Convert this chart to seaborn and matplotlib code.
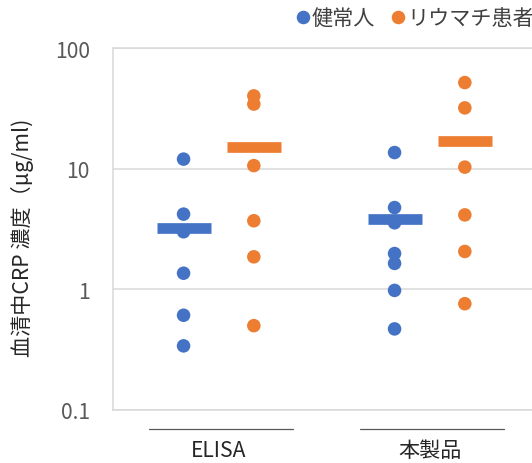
import numpy as np
import pandas as pd
import matplotlib
matplotlib.use("Agg")
import matplotlib.pyplot as plt
import matplotlib.transforms as mtransforms
import seaborn as sns

# ---- data ----
categories = ["ELISA", "本製品"]
groups = ["健常人", "リウマチ患者"]

elisa_healthy = [12.0, 4.2, 3.0, 1.36, 0.61, 0.34]
elisa_patient = [40.1, 34.3, 10.6, 3.7, 1.86, 0.50]
product_healthy = [13.6, 4.76, 3.56, 1.98, 1.64, 0.98, 0.47]
product_patient = [51.7, 31.9, 10.3, 4.14, 2.06, 0.76]

# mean bars
mean_healthy = [3.24, 3.84]
mean_patient = [15.1, 16.9]

ytick_vals = [0.1, 1, 10, 100]
ytick_labels = ["0.1", "1", "10", "100"]
ylabel = "血清中CRP 濃度（μg/ml)"

BLUE = "#4472C4"
ORANGE = "#ED7D31"
GRID = "#D9D9D9"

# ---- style ----
sns.set_theme(style="white")
plt.rcParams["font.family"] = ["Noto Sans CJK JP", "DejaVu Sans"]
FS = 15.2

# ---- long table ----
offset = {groups[0]: -0.167, groups[1]: 0.166}
series = {
    (categories[0], groups[0]): elisa_healthy,
    (categories[0], groups[1]): elisa_patient,
    (categories[1], groups[0]): product_healthy,
    (categories[1], groups[1]): product_patient,
}
rows = []
for (cat, grp), vals in series.items():
    for v in vals:
        rows.append({"cat": cat, "group": grp,
                     "x": categories.index(cat) + offset[grp], "value": v})
df = pd.DataFrame(rows)

fig = plt.figure(figsize=(5.32, 4.64), dpi=100)
W, H = 532, 464
left, right, top, bottom = 113.3, 535.3, 49, 411
ax = fig.add_axes([left / W, (H - bottom) / H, (right - left) / W, (bottom - top) / H])

sns.scatterplot(data=df, x="x", y="value", hue="group", hue_order=groups,
                palette=[BLUE, ORANGE], s=95, linewidth=0, ax=ax, zorder=3)

# mean bars
for i, cat in enumerate(categories):
    for grp, means, col in [(groups[0], mean_healthy, BLUE), (groups[1], mean_patient, ORANGE)]:
        xc = i + offset[grp]
        ax.plot([xc - 0.128, xc + 0.128], [means[i], means[i]], color=col,
                lw=7.7, solid_capstyle="butt", zorder=4)

ax.set_yscale("log")
ax.set_ylim(0.1, 100)
ax.set_xlim(-0.5, 1.5)
ax.set_yticks(ytick_vals)
ax.set_yticklabels(ytick_labels)
ax.yaxis.set_minor_locator(matplotlib.ticker.NullLocator())
ax.tick_params(axis="y", length=0, pad=17, labelsize=FS, labelcolor="#595959")

ax.set_xticks(range(len(categories)))
ax.set_xticklabels(categories)
ax.tick_params(axis="x", length=0, pad=21, labelsize=FS, labelcolor="#262626")
ax.set_xlabel("")

ax.set_ylabel(ylabel, fontsize=FS, color="#262626")
ax.yaxis.set_label_coords(-0.188, 0.478)

ax.yaxis.grid(True, which="major", color=GRID, lw=1.1)
ax.xaxis.grid(False)
for sp in ax.spines.values():
    sp.set_color(GRID)
    sp.set_linewidth(1.1)
    sp.set_visible(True)

# category underlines below the plot
trans = mtransforms.blended_transform_factory(ax.transData, ax.transAxes)
yline = (bottom - 430) / (bottom - top)
for i in range(len(categories)):
    ax.plot([i - 0.33, i + 0.35], [yline, yline], color="#595959", lw=0.9,
            transform=trans, clip_on=False)

# legend at top right
sns.move_legend(ax, loc="center left", bbox_to_anchor=(296 / W, 1 - 19 / H),
                bbox_transform=fig.transFigure, ncol=2, title=None, frameon=False,
                fontsize=FS, handlelength=0.65, handletextpad=0.1,
                columnspacing=0.75, borderpad=0, borderaxespad=0)
for t in ax.get_legend().get_texts():
    t.set_color("#404040")

fig.savefig("out.png", dpi=100)
